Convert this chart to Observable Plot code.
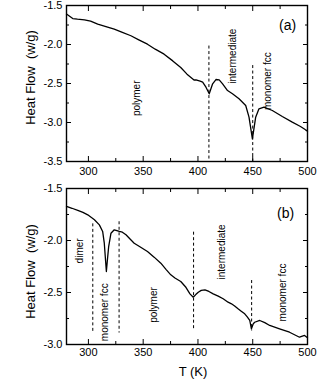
<!DOCTYPE html>
<html><head><meta charset="utf-8">
<script src="https://cdn.jsdelivr.net/npm/d3@7"></script>
<script src="https://cdn.jsdelivr.net/npm/@observablehq/plot@0.6"></script>
<style>body{margin:0;background:#fff} #chart svg{display:block;overflow:visible}</style>
</head><body><div id="chart"></div>
<script>
// ---- panel (a) ----
const tA = [280,285.7,290,296.4,302,308.5,316,323.6,331,338.8,346,353.9,361,369.1,377,384.3,390,396.4,398.2,402,404.3,407.3,410.3,413.4,416.4,419.4,422.5,427,431.5,437.5,443.6,446.6,449.7,452.7,455.7,460.3,467.9,477,486.1,493.6,498.2,500];
const hA = [-1.61,-1.667,-1.675,-1.683,-1.70,-1.74,-1.77,-1.804,-1.845,-1.888,-1.94,-1.996,-2.06,-2.124,-2.21,-2.295,-2.38,-2.455,-2.453,-2.47,-2.483,-2.547,-2.632,-2.504,-2.449,-2.453,-2.504,-2.59,-2.632,-2.696,-2.782,-2.932,-3.209,-2.932,-2.824,-2.804,-2.846,-2.923,-2.996,-3.051,-3.094,-3.11];
const dashA_T = [410, 450];
const dashA_top = [-2.02, -2.27];
const dashA_bot = [-3.5, -3.5];
const labA_text = ["polymer", "intermediate", "monomer fcc"];
const labA_T = [344.5, 432, 463.6];
const labA_H = [-2.69, -2.15, -2.47];
const tagA = "(a)", tagA_T = 481.8, tagA_H = -1.756;
const yMajorA = [-3.5, -3.0, -2.5, -2.0, -1.5];
const yMinorA = [-3.25, -2.75, -2.25, -1.75];

// ---- panel (b) ----
const tB = [280,285,290.3,295,299.4,305.5,310,313,314.5,315.5,316.4,317.4,318.5,320.6,323.6,326,328.2,331,334.3,338,341.8,347,353.9,360,366.1,371,375.2,379,384.3,389,392.7,395.7,398,400.3,403,406.4,410,413.9,418.5,423,427.5,430.6,433.5,436.6,439.5,442.7,445,447.3,448.8,450.5,451.8,456.4,461,465.5,474.5,483.6,492.7,497.3,500];
const hB = [-1.673,-1.69,-1.71,-1.73,-1.753,-1.80,-1.85,-1.913,-2.026,-2.17,-2.298,-2.18,-2.058,-1.93,-1.897,-1.905,-1.913,-1.92,-1.945,-1.985,-2.026,-2.06,-2.106,-2.16,-2.218,-2.28,-2.33,-2.36,-2.394,-2.45,-2.513,-2.545,-2.52,-2.497,-2.48,-2.474,-2.49,-2.513,-2.535,-2.56,-2.593,-2.609,-2.63,-2.657,-2.68,-2.705,-2.735,-2.769,-2.849,-2.80,-2.786,-2.769,-2.79,-2.817,-2.849,-2.882,-2.93,-2.913,-2.935];
const dashB_T = [304, 328, 396, 449];
const dashB_top = [-1.84, -1.82, -1.92, -2.385];
const dashB_bot = [-2.88, -2.89, -2.87, -2.87];
const labB_text = ["dimer", "monomer fcc", "polymer", "intermediate", "monomer fcc"];
const labB_T = [292, 315, 359.4, 421.5, 477.5];
const labB_H = [-2.10, -2.69, -2.62, -2.11, -2.50];
const tagB = "(b)", tagB_T = 480, tagB_H = -1.745;
const yMajorB = [-3.0, -2.5, -2.0, -1.5];
const yMinorB = [-2.75, -2.25, -1.75];

// ---- shared ----
const xMajor = [300, 350, 400, 450, 500];
const xMinor = [325, 375, 425, 475];
const xDomain = [280, 500];
const yTitle = "Heat Flow  (w/g)";
const xTitle = "T (K)";

const FONT = "'Liberation Sans', Arial, Helvetica, sans-serif";

function panel(o) {
  const line = o.T.map((t, i) => ({t, h: o.H[i]}));
  const dashes = o.dashT.map((t, i) => ({t, a: o.dashTop[i], b: o.dashBot[i]}));
  const labels = o.labText.map((s, i) => ({s, t: o.labT[i], h: o.labH[i]}));
  const marks = [
    Plot.axisX(xMajor, {anchor: "bottom", tickSize: -5, tickPadding: o.xPad, tickFormat: d => String(d), label: null, fontSize: 11}),
    Plot.axisX(xMinor, {anchor: "bottom", tickSize: -3, fill: "none", label: null}),
    Plot.axisX(xMajor, {anchor: "top", tickSize: -5, fill: "none", label: null}),
    Plot.axisX(xMinor, {anchor: "top", tickSize: -3, fill: "none", label: null}),
    Plot.axisY(o.yMajor, {anchor: "left", tickSize: -5, tickPadding: 9, tickFormat: d => d.toFixed(1), label: null, fontSize: 11}),
    Plot.axisY(o.yMinor, {anchor: "left", tickSize: -3, fill: "none", label: null}),
    Plot.axisY(o.yMajor, {anchor: "right", tickSize: -5, fill: "none", label: null}),
    Plot.axisY(o.yMinor, {anchor: "right", tickSize: -3, fill: "none", label: null}),
    Plot.frame({stroke: "black", strokeWidth: 1.4}),
    Plot.ruleX(dashes, {x: "t", y1: "a", y2: "b", stroke: "black", strokeWidth: 1, strokeDasharray: "3,2.5"}),
    Plot.line(line, {x: "t", y: "h", stroke: "black", strokeWidth: 1.3}),
    Plot.text(labels, {x: "t", y: "h", text: "s", rotate: -90, fontSize: 10, fill: "black"}),
    Plot.text([o.tag], {x: [o.tagT], y: [o.tagH], text: d => d, fontSize: 14, fill: "black"}),
    Plot.text([yTitle], {frameAnchor: "left", textAnchor: "middle", rotate: -90, dx: -36, dy: o.titleDy, fontSize: 13, fill: "black"})
  ];
  if (o.xTitle) marks.push(Plot.text([o.xTitle], {frameAnchor: "bottom", dx: 6, dy: 31, fontSize: 13, fill: "black"}));
  return Plot.plot({
    width: 318, height: o.height,
    marginLeft: 66, marginRight: 11, marginTop: o.marginTop, marginBottom: o.marginBottom,
    x: {domain: xDomain},
    y: {domain: o.yDomain},
    style: {fontFamily: FONT, fontSize: "11px", background: "white", color: "black", overflow: "visible"},
    marks
  });
}

const chart = document.getElementById("chart");
chart.append(panel({
  T: tA, H: hA, dashT: dashA_T, dashTop: dashA_top, dashBot: dashA_bot,
  labText: labA_text, labT: labA_T, labH: labA_H, tag: tagA, tagT: tagA_T, tagH: tagA_H,
  yMajor: yMajorA, yMinor: yMinorA, yDomain: [-3.5, -1.5],
  height: 183, marginTop: 5, marginBottom: 22, xPad: 11, titleDy: -6
}));
chart.append(panel({
  T: tB, H: hB, dashT: dashB_T, dashTop: dashB_top, dashBot: dashB_bot,
  labText: labB_text, labT: labB_T, labH: labB_H, tag: tagB, tagT: tagB_T, tagH: tagB_H,
  yMajor: yMajorB, yMinor: yMinorB, yDomain: [-3.0, -1.5],
  height: 201, marginTop: 5, marginBottom: 40, xPad: 9, titleDy: 5, xTitle
}));
</script>
</body></html>
